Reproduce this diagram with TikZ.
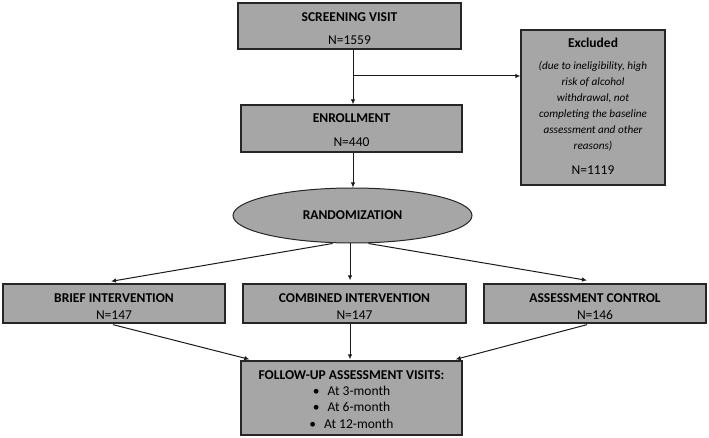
\documentclass[tikz,border=0pt]{standalone}
\usepackage{fontspec}
\setmainfont{Carlito}
\usetikzlibrary{shapes.geometric,arrows.meta,calc}
\definecolor{boxfill}{HTML}{A6A6A6}
\definecolor{boxline}{HTML}{262626}
\definecolor{arrline}{HTML}{1A1A1A}
\tikzset{
  box/.style={draw=boxline, fill=boxfill, line width=1.3pt, rectangle, inner sep=0pt},
  oval/.style={draw=boxline, fill=boxfill, line width=1pt, ellipse, inner sep=0pt},
  txt/.style={font=\fontsize{13.5}{15}\selectfont, inner sep=0pt, anchor=base},
  btxt/.style={txt, font=\fontsize{13.5}{15}\selectfont\bfseries},
  itxt/.style={txt, font=\fontsize{11.2}{13}\selectfont\itshape},
  arr/.style={draw=arrline, line width=1pt, -{Latex[length=5pt,width=4.5pt]}}
}
\begin{document}
\begin{tikzpicture}[x=1pt,y=-1pt]
\useasboundingbox (0,0) rectangle (709,438);
% boxes
\node[box, minimum width=223pt, minimum height=46pt] (scr) at (349.5,26) {};
\node[box, minimum width=221pt, minimum height=47pt] (enr) at (351.5,128.5) {};
\node[box, minimum width=144pt, minimum height=155pt] (exc) at (593,107.5) {};
\node[oval, minimum width=239pt, minimum height=55pt] (ell) at (352.5,215.5) {};
\node[box, minimum width=222pt, minimum height=39pt] (bri) at (114,303.5) {};
\node[box, minimum width=223pt, minimum height=39pt] (com) at (354.5,303.5) {};
\node[box, minimum width=222pt, minimum height=39pt] (asc) at (595,303.5) {};
\node[box, minimum width=221pt, minimum height=74pt] (fol) at (351.5,398) {};
% texts (baselines)
\node[btxt] (t1) at (349.5,21.5) {SCREENING VISIT};
\node[txt] (t2) at (349.5,45) {N=1559};
\node[btxt] (t3) at (351.5,122.5) {ENROLLMENT};
\node[txt] (t4) at (351.5,147) {N=440};
\node[btxt] (t5) at (593,47.5) {Excluded};
\node[itxt] (t6) at (593,70) {(due to ineligibility, high};
\node[itxt] (t7) at (593,86) {risk of alcohol};
\node[itxt] (t8) at (593,102) {withdrawal, not};
\node[itxt] (t9) at (593,118) {completing the baseline};
\node[itxt] (t10) at (593,134) {assessment and other};
\node[itxt] (t11) at (593,150) {reasons)};
\node[txt] (t12) at (593,175) {N=1119};
\node[btxt] (t13) at (352.5,220) {RANDOMIZATION};
\node[btxt] (t14) at (114,302) {BRIEF INTERVENTION};
\node[txt] (t15) at (114,319) {N=147};
\node[btxt] (t16) at (354.5,302) {COMBINED INTERVENTION};
\node[txt] (t17) at (354.5,319) {N=147};
\node[btxt] (t18) at (595,302) {ASSESSMENT CONTROL};
\node[txt] (t19) at (595,319) {N=146};
\node[btxt] (t20) at (351.5,379) {FOLLOW-UP ASSESSMENT VISITS:};
\node[txt] (t21) at (351.5,395) {\textbullet\hspace{8pt}At 3-month};
\node[txt] (t22) at (351.5,411.5) {\textbullet\hspace{8pt}At 6-month};
\node[txt] (t23) at (351.5,428) {\textbullet\hspace{8pt}At 12-month};
% connectors
\coordinate (cx) at (353,0);
\coordinate (br) at (354,76);
\draw[arr] (scr.south -| cx) -- (enr.north -| cx);
\draw[arr] (br) -- (br -| exc.west);
\draw[arr] (enr.south -| cx) -- (ell.north -| cx);
\draw[arr] ($(ell.south)+(-20,0)$) -- ($(bri.north)+(-3,-2)$);
\draw[arr] ($(ell.south)+(-2.5,0)$) -- ($(com.north)+(-4.5,-3)$);
\draw[arr] ($(ell.south)+(16,0)$) -- ($(asc.north)+(-8,-3)$);
\draw[arr] ($(bri.south)+(-1,1)$) -- ($(fol.north west)+(9,-1)$);
\draw[arr] ($(com.south)+(-4.5,0)$) -- ($(fol.north)+(-1.5,-1)$);
\draw[arr] ($(asc.south)+(-8,1)$) -- ($(fol.north east)+(-7,-1)$);
\end{tikzpicture}
\end{document}
